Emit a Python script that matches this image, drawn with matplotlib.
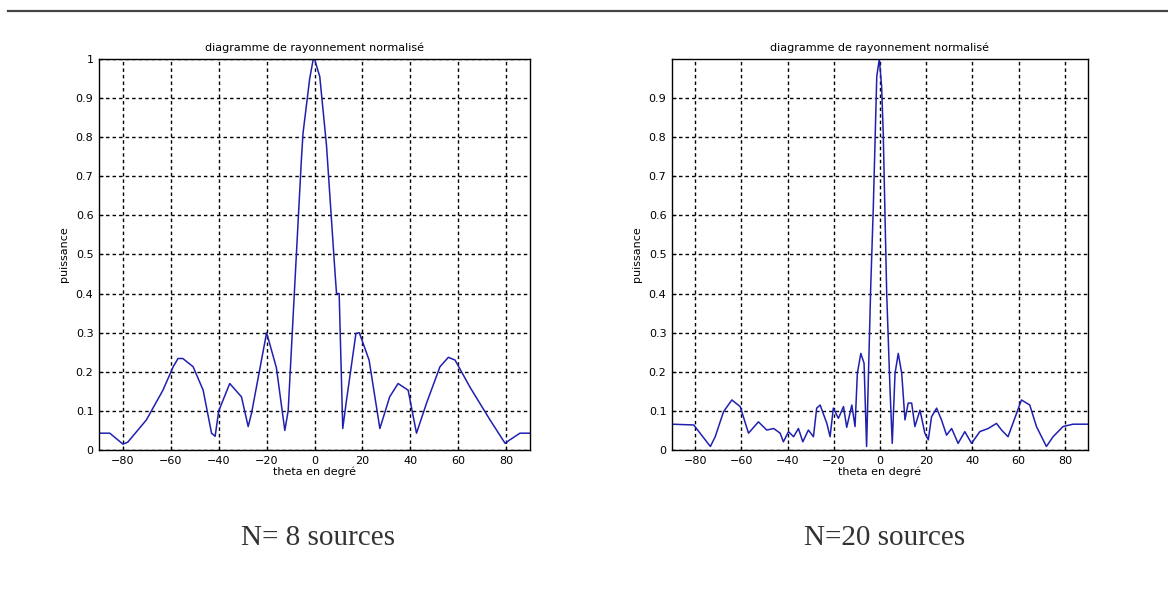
import numpy as np
import matplotlib.pyplot as plt
from matplotlib.lines import Line2D

# angles (deg) and normalised power, N = 8 sources
theta8 = [-90, -85.5, -80, -78, -70.2, -63.3, -59, -57, -55, -50.7, -46.5, -43,
          -41.5, -40, -35.4, -30.5, -27.7, -26.3, -20, -15.9, -12.4, -11,
          -8, -5.5, -4.8, -2, -0.6, 0, 2.2, 5.0, 8.5, 9.2, 10.3, 11.8, 13.2,
          17.3, 18.7, 22.8, 27.3, 31.4, 34.9, 39.1, 42.6, 46.8, 52.4, 55.9,
          58.7, 65, 73.3, 79.6, 81.6, 85.8, 90]
p8 = [0.043, 0.043, 0.015, 0.02, 0.077, 0.153, 0.213, 0.234, 0.234, 0.213, 0.153, 0.043,
      0.035, 0.1, 0.17, 0.136, 0.06, 0.094, 0.30, 0.21, 0.05, 0.1,
      0.45, 0.74, 0.81, 0.95, 0.997, 1.0, 0.955, 0.78, 0.46, 0.4, 0.4, 0.055, 0.12,
      0.298, 0.30, 0.23, 0.055, 0.136, 0.17, 0.153, 0.043, 0.12, 0.213, 0.237,
      0.23, 0.16, 0.077, 0.017, 0.026, 0.043, 0.043]

# angles (deg) and normalised power, N = 20 sources
theta20 = [-90, -80.6, -73.4, -71.3, -67.7, -64.1, -60.5, -56.9, -52.6, -49, -46,
           -43.2, -41.8, -39.6, -37.4, -35.3, -33.4, -31, -28.8, -27.4, -25.9, -23,
           -21.6, -20.2, -18, -15.8, -14.4, -12.2, -10.8, -9.8, -8.3, -6.9, -5.8,
           -4, -2.9, -1.4, -0.3, 0.7, 1.4, 2.2, 2.9, 4.3, 5.3, 6.5, 7.9, 9.4, 10.8,
           12.2, 13.7, 15.1, 17.3, 19.4, 20.9, 22.3, 24.5, 26.6, 28.8, 31, 33.8,
           36.7, 39.6, 43.2, 46.8, 50.4, 52.6, 55.4, 58.3, 61.2, 64.8, 67.7, 72,
           74.9, 79.2, 83.5, 90]
p20 = [0.066, 0.064, 0.009, 0.034, 0.098, 0.128, 0.111, 0.043, 0.072, 0.051, 0.055,
       0.043, 0.021, 0.047, 0.034, 0.055, 0.021, 0.051, 0.034, 0.107, 0.115, 0.068,
       0.034, 0.107, 0.081, 0.111, 0.058, 0.115, 0.06, 0.196, 0.247, 0.222, 0.009,
       0.42, 0.62, 0.955, 1.0, 0.93, 0.81, 0.59, 0.4, 0.16, 0.017, 0.196, 0.247, 0.196, 0.077,
       0.12, 0.12, 0.06, 0.102, 0.043, 0.026, 0.085, 0.107, 0.077, 0.038, 0.055, 0.017,
       0.047, 0.017, 0.047, 0.055, 0.068, 0.051, 0.034, 0.081, 0.128, 0.115, 0.06, 0.009,
       0.034, 0.06, 0.066, 0.066]

xticks = [-80, -60, -40, -20, 0, 20, 40, 60, 80]
yticks_left = [0, 0.1, 0.2, 0.3, 0.4, 0.5, 0.6, 0.7, 0.8, 0.9, 1]
yticks_right = [0, 0.1, 0.2, 0.3, 0.4, 0.5, 0.6, 0.7, 0.8, 0.9]
captions = ["N= 8 sources", "N=20 sources"]

fig = plt.figure(figsize=(11.68, 6.04), dpi=100)

# rule across the top of the page
fig.add_artist(Line2D([8 / 1168, 1.0], [1 - 11 / 604, 1 - 11 / 604],
                      transform=fig.transFigure, color="#444444", lw=1.6))

ax1 = fig.add_axes([99 / 1168, 154 / 604, 431 / 1168, 391 / 604])
ax2 = fig.add_axes([672 / 1168, 154 / 604, 416 / 1168, 391 / 604])

for ax, th, p, yt in [(ax1, theta8, p8, yticks_left), (ax2, theta20, p20, yticks_right)]:
    ax.plot(th, p, color="#2020b0", lw=1.1)
    ax.set_xlim(-90, 90)
    ax.set_ylim(0, 1)
    ax.set_xticks(xticks)
    ax.set_yticks(yt)
    ax.set_yticklabels([("%g" % v) for v in yt])
    ax.tick_params(labelsize=8, direction="in", length=3, width=0.8, pad=4)
    ax.grid(True, color="black", linestyle=(0, (2.5, 2.2)), linewidth=1.0)
    for s in ax.spines.values():
        s.set_linewidth(1.0)
    ax.set_title("diagramme de rayonnement normalisé", fontsize=8, pad=6)
    ax.set_xlabel("theta en degré", fontsize=8, labelpad=1)
    ax.set_ylabel("puissance", fontsize=8, labelpad=5)

fig.text(318 / 1168, 1 - 538 / 604, captions[0], fontsize=21, color="#333333",
         family="Liberation Serif", ha="center", va="center")
fig.text(885 / 1168, 1 - 538 / 604, captions[1], fontsize=21, color="#333333",
         family="Liberation Serif", ha="center", va="center")

fig.savefig("out.png", dpi=100)
